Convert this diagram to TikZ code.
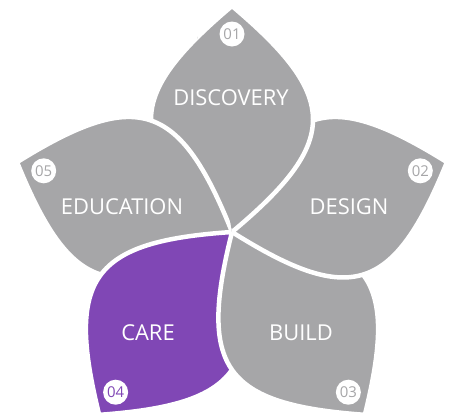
\documentclass[tikz,border=0pt]{standalone}
\usepackage{fontspec}
\setmainfont{Open Sans}
\usepackage{tikz}
\definecolor{petalgray}{RGB}{166,166,168}
\definecolor{petalpurple}{RGB}{128,71,181}
\newcommand{\petalshape}{(0,0) .. controls (108,90) and (108,135) .. (0,226) .. controls (-108,135) and (-108,90) .. cycle}

\begin{document}
\begin{tikzpicture}[x=1bp,y=1bp,
    leaf/.style={fill=petalgray, draw=white, line width=4.5bp, line join=round},
    caption/.style={text=white, font=\fontsize{22}{25}\selectfont},
    badge/.style={circle, fill=white, inner sep=0pt, minimum size=25bp, text=petalgray, font=\fontsize{15}{16}\selectfont}]
        \useasboundingbox (-232,-184) rectangle (218,232);

        % petals, each one lies over the next one clockwise
        \draw[leaf] \petalshape;
        \draw[leaf, rotate=72] \petalshape;
        \draw[leaf, fill=petalpurple, rotate=144] \petalshape;
        \draw[leaf, rotate=-144] \petalshape;
        \draw[leaf, rotate=-72] \petalshape;
        % discovery again, over design
        \begin{scope}
            \clip (0,0) -- (-10:320) arc[start angle=-10, end angle=100, radius=320] -- cycle;
            \draw[leaf] \petalshape;
        \end{scope}

        \node[caption] (discovery) at (-1,134) {DISCOVERY};
        \node[caption] (design) at (117,25) {DESIGN};
        \node[caption] (build) at (69,-101) {BUILD};
        \node[caption] (care) at (-84,-101) {CARE};
        \node[caption] (education) at (-110,25) {EDUCATION};

        \node[badge] (n1) at (90:198) {01};
        \node[badge] (n2) at (18:198) {02};
        \node[badge] (n3) at (-54:198) {03};
        \node[badge, text=petalpurple] (n4) at (-126:198) {04};
        \node[badge] (n5) at (162:198) {05};
    \end{tikzpicture}
\end{document}
